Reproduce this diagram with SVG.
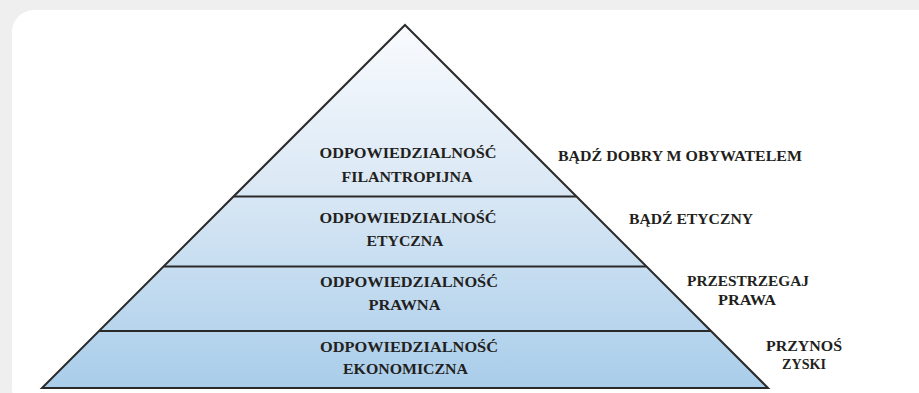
<svg xmlns="http://www.w3.org/2000/svg" width="919" height="393" viewBox="0 0 919 393">
<defs>
<linearGradient id="pg" gradientUnits="userSpaceOnUse" x1="0" y1="25" x2="0" y2="388">
<stop offset="0" stop-color="#f9fbfe"/>
<stop offset="0.45" stop-color="#dae8f5"/>
<stop offset="1" stop-color="#a9cdea"/>
</linearGradient>
<style>
.t{font-family:"Liberation Serif","DejaVu Serif",serif;font-weight:bold;font-size:14.5px;fill:#231f20;text-anchor:middle}
.ln{stroke:#2a2a2a;stroke-width:2;fill:none}
</style>
</defs>
<rect x="0" y="0" width="919" height="393" fill="#efefef"/>
<rect x="12" y="10" width="930" height="400" rx="22" fill="#ffffff"/>
<g id="pyramid">
<polygon points="405,25 768,388 42,388" fill="url(#pg)" stroke="#2a2a2a" stroke-width="2" stroke-linejoin="miter"/>
</g>
<g id="dividers">
<line class="ln" x1="234" y1="196.5" x2="576" y2="196.5"/>
<line class="ln" x1="164" y1="266.5" x2="646" y2="266.5"/>
<line class="ln" x1="99" y1="331" x2="711" y2="331"/>
</g>
<g id="level-filantropijna">
<text class="t" x="408" y="158" textLength="177" lengthAdjust="spacingAndGlyphs">ODPOWIEDZIALNOŚĆ</text>
<text class="t" x="407" y="182" textLength="131" lengthAdjust="spacingAndGlyphs">FILANTROPIJNA</text>
</g>
<g id="level-etyczna">
<text class="t" x="408" y="223" textLength="177" lengthAdjust="spacingAndGlyphs">ODPOWIEDZIALNOŚĆ</text>
<text class="t" x="405" y="246" textLength="77" lengthAdjust="spacingAndGlyphs">ETYCZNA</text>
</g>
<g id="level-prawna">
<text class="t" x="409" y="287" textLength="178" lengthAdjust="spacingAndGlyphs">ODPOWIEDZIALNOŚĆ</text>
<text class="t" x="404.5" y="310" textLength="72" lengthAdjust="spacingAndGlyphs">PRAWNA</text>
</g>
<g id="level-ekonomiczna">
<text class="t" x="409" y="352" textLength="178" lengthAdjust="spacingAndGlyphs">ODPOWIEDZIALNOŚĆ</text>
<text class="t" x="405.5" y="374" textLength="125" lengthAdjust="spacingAndGlyphs">EKONOMICZNA</text>
</g>
<g id="label-obywatel">
<text class="t" x="680" y="161" textLength="244" lengthAdjust="spacingAndGlyphs">BĄDŹ DOBRY M OBYWATELEM</text>
</g>
<g id="label-etyczny">
<text class="t" x="691" y="224" textLength="124" lengthAdjust="spacingAndGlyphs">BĄDŹ ETYCZNY</text>
</g>
<g id="label-prawo">
<text class="t" x="748" y="286" textLength="122" lengthAdjust="spacingAndGlyphs">PRZESTRZEGAJ</text>
<text class="t" x="747" y="305" textLength="58" lengthAdjust="spacingAndGlyphs">PRAWA</text>
</g>
<g id="label-zyski">
<text class="t" x="804" y="351" textLength="76" lengthAdjust="spacingAndGlyphs">PRZYNOŚ</text>
<text class="t" x="804" y="369" textLength="44" lengthAdjust="spacingAndGlyphs">ZYSKI</text>
</g>
</svg>
